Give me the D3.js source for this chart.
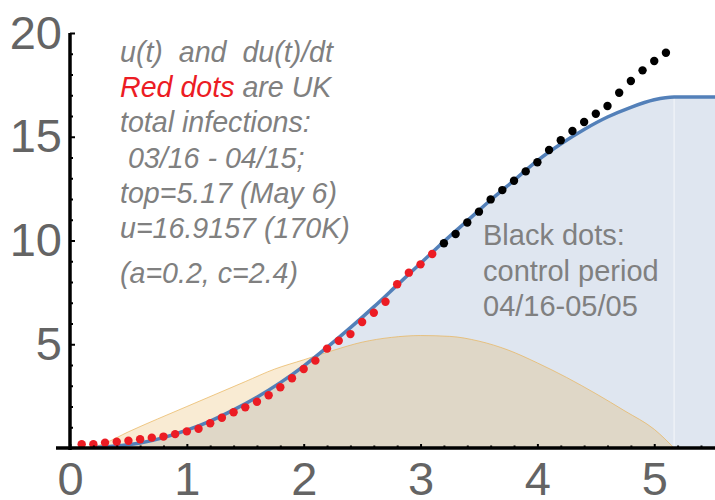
<!DOCTYPE html>
<html>
<head>
<meta charset="utf-8">
<script src="https://cdn.jsdelivr.net/npm/d3@7"></script>
<style>
  html, body { margin: 0; padding: 0; background: #fff; }
  svg { display: block; }
  text { font-family: "Liberation Sans", Arial, sans-serif; }
</style>
</head>
<body>
<svg id="chart" width="715" height="500"></svg>
<script>
// ---- data ----
const uT    = [0, 0.2, 0.4, 0.6, 0.8, 1.0, 1.2, 1.4, 1.6, 1.8, 2.0, 2.2, 2.4, 2.6, 2.8, 3.0, 3.2, 3.4, 3.6, 3.8, 4.0, 4.2, 4.4, 4.6, 4.8, 5.0, 5.17, 5.52];
const uVals = [0, 0.03, 0.1, 0.24, 0.5, 0.86, 1.3, 1.84, 2.45, 3.15, 3.95, 4.85, 5.8, 6.8, 7.85, 8.9, 9.95, 10.95, 11.95, 12.9, 13.85, 14.65, 15.35, 15.95, 16.42, 16.78, 16.9157, 16.9157];

const duT    = [0, 0.1, 0.2, 0.3, 0.5, 0.75, 1.0, 1.25, 1.5, 1.75, 2.0, 2.25, 2.5, 2.75, 3.0, 3.25, 3.5, 3.75, 4.0, 4.25, 4.5, 4.75, 5.0, 5.17];
const duVals = [0, 0.01, 0.06, 0.24, 0.78, 1.4, 2.0, 2.6, 3.2, 3.8, 4.25, 4.7, 5.1, 5.33, 5.42, 5.38, 5.15, 4.72, 4.1, 3.4, 2.62, 1.78, 0.9, 0];

const redT    = [0.1, 0.2, 0.3, 0.4, 0.5, 0.6, 0.7, 0.8, 0.9, 1.0, 1.1, 1.2, 1.3, 1.4, 1.5, 1.6, 1.7, 1.8, 1.9, 2.0, 2.1, 2.2, 2.3, 2.4, 2.5, 2.6, 2.7, 2.8, 2.9, 3.0, 3.1];
const redVals = [0.18, 0.18, 0.26, 0.30, 0.35, 0.42, 0.50, 0.55, 0.67, 0.80, 0.93, 1.19, 1.46, 1.72, 1.96, 2.23, 2.54, 2.93, 3.36, 3.81, 4.21, 4.79, 5.17, 5.49, 6.07, 6.52, 7.05, 7.89, 8.45, 8.85, 9.35];

const blackT    = [3.2, 3.3, 3.4, 3.5, 3.6, 3.7, 3.8, 3.9, 4.0, 4.1, 4.2, 4.3, 4.4, 4.5, 4.6, 4.7, 4.8, 4.9, 5.0, 5.1];
const blackVals = [9.87, 10.31, 10.87, 11.39, 11.98, 12.43, 12.88, 13.33, 13.77, 14.36, 14.83, 15.28, 15.71, 16.11, 16.48, 17.12, 17.69, 18.20, 18.65, 19.05];

const topT = 5.17;
const xMajor = [0, 1, 2, 3, 4, 5];
const xMinor = [0.2, 0.4, 0.6, 0.8, 1.2, 1.4, 1.6, 1.8, 2.2, 2.4, 2.6, 2.8, 3.2, 3.4, 3.6, 3.8, 4.2, 4.4, 4.6, 4.8, 5.2, 5.4];
const yMajor = [5, 10, 15, 20];
const yMinor = [1, 2, 3, 4, 6, 7, 8, 9, 11, 12, 13, 14, 16, 17, 18, 19];

const noteLines = [
  [{t: "u(t)  and  du(t)/dt", c: "#808080"}],
  [{t: "Red dots", c: "#ec1c24"}, {t: " are UK", c: "#808080"}],
  [{t: "total infections:", c: "#808080"}],
  [{t: " 03/16 - 04/15;", c: "#808080"}],
  [{t: "top=5.17 (May 6)", c: "#808080"}],
  [{t: "u=16.9157 (170K)", c: "#808080"}]
];
const paramText = "(a=0.2, c=2.4)";
const blackNote = ["Black dots:", "control period", "04/16-05/05"];

// ---- drawing ----
const svg = d3.select("#chart");
const x = d3.scaleLinear().domain([0, 5.52]).range([70, 715]);
const y = d3.scaleLinear().domain([0, 20]).range([448, 33]);

const uData  = uT.map((t, i) => ({t, v: uVals[i]}));
const duData = duT.map((t, i) => ({t, v: duVals[i]}));

const areaU = d3.area().x(d => x(d.t)).y0(y(0)).y1(d => y(d.v)).curve(d3.curveMonotoneX);
const lineU = d3.line().x(d => x(d.t)).y(d => y(d.v)).curve(d3.curveMonotoneX);

svg.append("path").datum(uData).attr("d", areaU)
  .attr("fill", "#5e81b5").attr("fill-opacity", 0.2);
svg.append("path").datum(duData).attr("d", areaU)
  .attr("fill", "#e19c24").attr("fill-opacity", 0.2);

// faint vertical seam at top
svg.append("line")
  .attr("x1", x(topT)).attr("x2", x(topT))
  .attr("y1", y(uVals[uT.indexOf(topT)])).attr("y2", y(0))
  .attr("stroke", "#fff").attr("stroke-opacity", 0.7).attr("stroke-width", 1);

svg.append("path").datum(duData).attr("d", lineU)
  .attr("fill", "none").attr("stroke", "#e8b45a").attr("stroke-opacity", 0.7).attr("stroke-width", 1);

svg.append("path").datum(uData.filter(d => d.t >= 0.15)).attr("d", lineU)
  .attr("fill", "none").attr("stroke", "#5380b9").attr("stroke-width", 3.5);

// dots
svg.append("g").selectAll("circle").data(redT.map((t, i) => ({t, v: redVals[i]})))
  .join("circle").attr("cx", d => x(d.t)).attr("cy", d => y(d.v)).attr("r", 4.2).attr("fill", "#ec1c24");
svg.append("g").selectAll("circle").data(blackT.map((t, i) => ({t, v: blackVals[i]})))
  .join("circle").attr("cx", d => x(d.t)).attr("cy", d => y(d.v)).attr("r", 4.2).attr("fill", "#000");

// axes
const labelColor = "#646464";
const gx = svg.append("g").attr("transform", `translate(0,${y(0)})`);
gx.call(d3.axisBottom(x).tickValues(xMajor).tickSizeInner(-4).tickSizeOuter(0).tickPadding(14).tickFormat(d3.format("d")));
gx.append("g").call(d3.axisBottom(x).tickValues(xMinor).tickSizeInner(-2.5).tickSizeOuter(0).tickFormat(""));
const gy = svg.append("g").attr("transform", `translate(${x(0)},0)`);
gy.call(d3.axisLeft(y).tickValues(yMajor).tickSizeInner(-5).tickSizeOuter(0).tickPadding(8).tickFormat(d3.format("d")));
gy.append("g").call(d3.axisLeft(y).tickValues(yMinor).tickSizeInner(-3).tickSizeOuter(0).tickFormat(""));

svg.selectAll(".domain").remove();
svg.selectAll(".tick line").attr("stroke", "#000").attr("stroke-width", 2);
svg.selectAll(".tick text").attr("fill", labelColor).style("font-size", "47px")
  .style("font-family", "'Liberation Sans', Arial, sans-serif");

svg.append("line").attr("x1", x(0) - 14).attr("x2", x(5.52)).attr("y1", y(0)).attr("y2", y(0))
  .attr("stroke", "#000").attr("stroke-width", 3.5);
svg.append("line").attr("x1", x(0)).attr("x2", x(0)).attr("y1", y(20)).attr("y2", y(0) + 2)
  .attr("stroke", "#000").attr("stroke-width", 3.5);

// notes
const note = svg.append("g").style("font-size", "28.6px").style("font-style", "italic");
noteLines.forEach((parts, i) => {
  const t = note.append("text").attr("x", 120).attr("y", 62 + i * 35.2).attr("xml:space", "preserve")
    .style("white-space", "pre");
  parts.forEach(p => t.append("tspan").attr("fill", p.c).text(p.t));
});
note.append("text").attr("x", 120).attr("y", 283).attr("fill", "#808080").text(paramText);

const bn = svg.append("g").style("font-size", "29px").attr("fill", "#808080");
blackNote.forEach((s, i) => {
  bn.append("text").attr("x", 483).attr("y", 245 + i * 35.5).text(s);
});
</script>
</body>
</html>
